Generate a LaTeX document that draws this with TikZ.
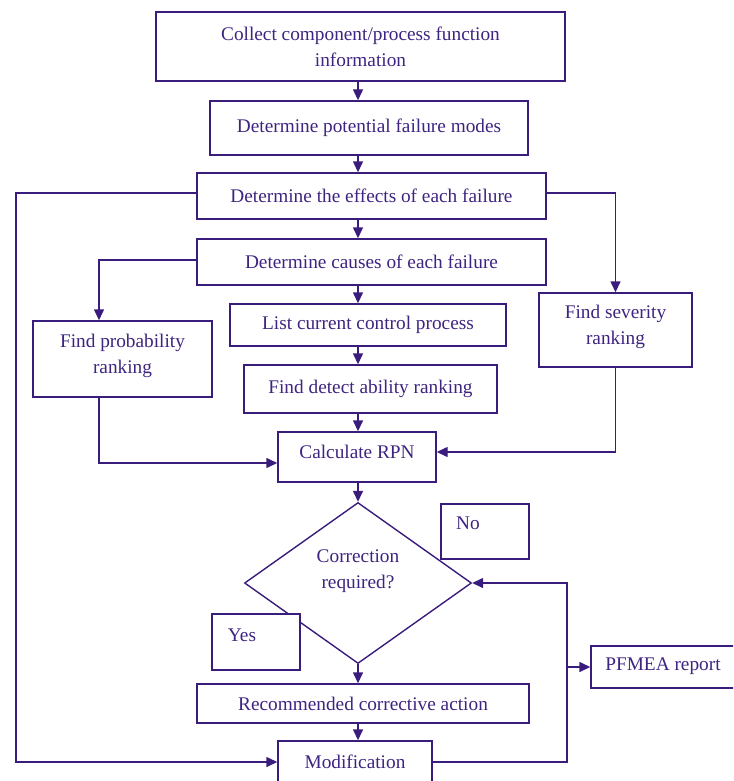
\documentclass[tikz,border=0pt]{standalone}
\usepackage{fontspec}
\setmainfont{Liberation Serif}
\usetikzlibrary{arrows.meta,shapes.geometric}
\definecolor{ink}{RGB}{58,28,124}
\definecolor{txt}{RGB}{62,36,128}
\begin{document}
\begin{tikzpicture}[x=1pt,y=-1pt,
  box/.style={draw=ink, line width=1.4pt, inner sep=0pt, text=txt, align=center,
    font=\fontsize{19.3}{26}\selectfont},
  lbl/.style={text=txt, align=center, inner sep=0pt, font=\fontsize{19.3}{26}\selectfont},
  arr/.style={draw=ink, line width=1.4pt, -{Triangle[length=11pt,width=10pt]}}]
\useasboundingbox (0,0) rectangle (733,781);
\clip (0,0) rectangle (733,781);
\coordinate (T) at (358,0);
\coordinate (L) at (16,0);
\coordinate (P) at (99,0);
\coordinate (R) at (567,0);

\node[box, minimum width=409pt, minimum height=69pt] (collect) at (360.5,46.5)
  {Collect component/process function\\information};
\node[box, minimum width=318pt, minimum height=54pt] (potential) at (369,128)
  {Determine potential failure modes};
\node[box, minimum width=349pt, minimum height=46pt] (effects) at (371.5,196)
  {Determine the effects of each failure};
\node[box, minimum width=349pt, minimum height=46pt] (causes) at (371.5,262)
  {Determine causes of each failure};
\node[box, minimum width=179pt, minimum height=76pt] (prob) at (122.5,359)
  {Find probability\\ranking\\[-16pt]};
\node[box, minimum width=276pt, minimum height=42pt] (list) at (368,325)
  {List current control process};
\node[box, minimum width=153pt, minimum height=74pt] (sev) at (615.5,330)
  {Find severity\\ranking\\[-16pt]};
\node[box, minimum width=253pt, minimum height=48pt] (detect) at (370.5,389)
  {Find detect ability ranking};
\node[box, minimum width=158pt, minimum height=50pt] (calc) at (357,457)
  {Calculate RPN\\[-16pt]};
\node[draw=ink, line width=1.4pt, diamond, minimum width=227pt, minimum height=161pt, inner sep=0pt] (dec) at (358,583) {};
\node[lbl] (dtext) at (358,571) {Correction\\required?};
\node[box, minimum width=88pt, minimum height=55pt] (no) at (485,531.5) {};
\node[lbl] (notext) at (468,523) {No};
\node[box, fill=white, minimum width=88pt, minimum height=56pt] (yes) at (256,642) {};
\node[lbl] (yestext) at (242,635) {Yes};
\node[box, minimum width=332pt, minimum height=39pt] (rec) at (363,703.5)
  {Recommended corrective action};
\node[box, minimum width=154pt, minimum height=42pt] (mod) at (355,762)
  {Modification};
\node[box, minimum width=154pt, minimum height=42pt] (pf) at (668,667)
  {\hspace*{-10pt}PFMEA report\\[-20pt]};

% main trunk
\draw[arr] (collect.south -| T) -- (potential.north -| T);
\draw[arr] (potential.south -| T) -- (effects.north -| T);
\draw[arr] (effects.south -| T) -- (causes.north -| T);
\draw[arr] (causes.south -| T) -- (list.north -| T);
\draw[arr] (list.south -| T) -- (detect.north -| T);
\draw[arr] (detect.south -| T) -- (calc.north -| T);
\draw[arr] (calc.south -| T) -- (dec.north);
\draw[arr] (dec.south) -- (rec.north -| T);
\draw[arr] (rec.south -| T) -- (mod.north -| T);

% side connectors
\draw[arr] ([yshift=3pt]effects.west) -- ([yshift=3pt]effects.west -| L) -- (mod.west -| L) -- (mod.west);
\draw[arr] ([yshift=3pt]effects.east) -| (sev.north);
\draw[arr] ([yshift=2pt]causes.west) -- ([yshift=2pt]causes.west -| P) -- (prob.north -| P);
\draw[arr] (prob.south -| P) |- ([yshift=-6pt]calc.west);
\draw[arr] (sev.south) |- ([yshift=5pt]calc.east);
\draw[arr] (mod.east) -- (mod.east -| R) -- (dec.east -| R) -- (dec.east);
\draw[arr] (pf.west -| R) -- (pf.west);
\end{tikzpicture}
\end{document}
